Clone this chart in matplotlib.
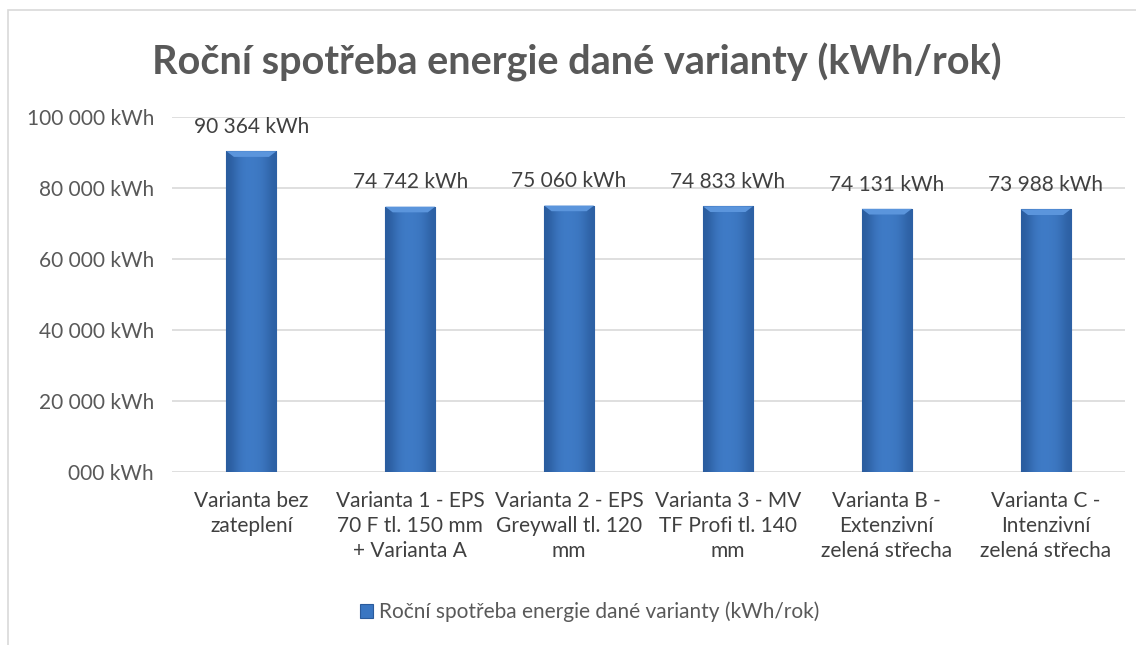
import numpy as np
import matplotlib.pyplot as plt
from matplotlib.patches import Rectangle
from matplotlib.colors import LinearSegmentedColormap

plt.rcParams['font.family'] = ['Lato', 'DejaVu Sans']

categories = ["Varianta bez\nzateplení",
              "Varianta 1 - EPS\n70 F tl. 150 mm\n+ Varianta A",
              "Varianta 2 - EPS\nGreywall tl. 120\nmm",
              "Varianta 3 - MV\nTF Profi tl. 140\nmm",
              "Varianta B -\nExtenzivní\nzelená střecha",
              "Varianta C -\nIntenzivní\nzelená střecha"]
values = [90364, 74742, 75060, 74833, 74131, 73988]
series_name = "Roční spotřeba energie dané varianty (kWh/rok)"
yticks = [0, 20000, 40000, 60000, 80000, 100000]


def fmt(v):
    if v == 0:
        return "000 kWh"
    return f"{v:,}".replace(",", " ") + " kWh"


fig = plt.figure(figsize=(11.36, 6.45), dpi=100)
# chart border
fig.patches.append(Rectangle((8 / 1136, -0.1), 1.2, (645 - 10) / 645 + 0.1,
                             transform=fig.transFigure, fill=False,
                             edgecolor='#d9d9d9', linewidth=1.2))

ax = fig.add_axes([172 / 1136, 173 / 645, 953 / 1136, 355 / 645])
x = np.arange(len(values))
bars = ax.bar(x, values, width=0.315, color='#3a76c2', edgecolor='#2b5b9c',
              linewidth=0.8, zorder=3)

# horizontal gradient on each bar
grad = np.array([[0.0, 0.6, 0.8, 0.75, 0.6, 0.1]])
cmap = LinearSegmentedColormap.from_list('b', ['#2a5c9e', '#4584d2'])
for b in bars:
    bx, bw, bh = b.get_x(), b.get_width(), b.get_height()
    im = ax.imshow(grad, cmap=cmap, aspect='auto', vmin=0, vmax=1,
                   extent=[bx, bx + bw, 0, bh], zorder=3.5,
                   interpolation='bicubic')
    im.set_clip_path(b)
    # bevel top
    ax.fill([bx, bx + bw, bx + bw * 0.85, bx + bw * 0.15],
            [bh, bh, bh - 1600, bh - 1600], color='#5b95dc', zorder=4, lw=0)

ax.set_xlim(-0.5, len(values) - 0.5)
ax.set_ylim(0, 100000)
ax.set_yticks(yticks)
ax.set_yticklabels([fmt(v) for v in yticks])
ax.set_xticks(x)
ax.set_xticklabels(categories, linespacing=1.3)
ax.tick_params(axis='y', length=0, pad=13, labelsize=15, labelcolor='#595959')
ax.tick_params(axis='x', length=0, pad=14, labelsize=15, labelcolor='#404040')
ax.grid(axis='y', color='#d9d9d9', linewidth=1.2, zorder=0)
for s in ax.spines.values():
    s.set_visible(False)

for xi, v in zip(x, values):
    ax.text(xi, v + 4000, fmt(v), ha='center', va='bottom', fontsize=15,
            color='#404040')

fig.text(577 / 1136, 1 - 62 / 645, series_name,
         ha='center', va='center', fontsize=28.5, fontweight='bold', color='#595959')

leg = ax.legend([bars[0]], [series_name], loc='center',
                bbox_to_anchor=((590 - 172) / 953, -(612 - 472) / 355),
                frameon=False, fontsize=15, handlelength=0.6, handleheight=0.6,
                handletextpad=0.3)
for t in leg.get_texts():
    t.set_color('#595959')

plt.savefig('out.png', dpi=100)
